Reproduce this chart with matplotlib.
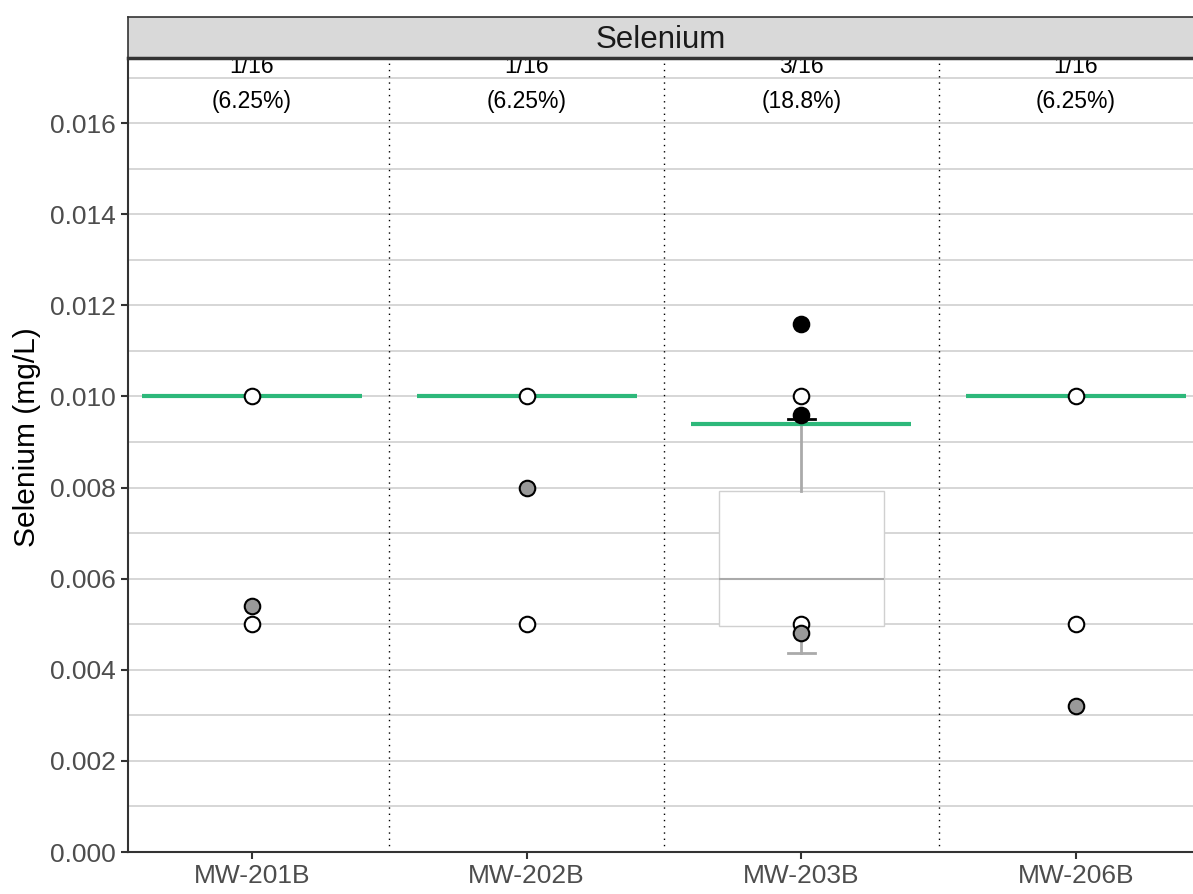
import matplotlib
matplotlib.use("Agg")
import matplotlib.pyplot as plt

plt.rcParams['font.family'] = ['Liberation Sans', 'DejaVu Sans']

# data
wells = ["MW-201B", "MW-202B", "MW-203B", "MW-206B"]
detect_counts = ["1/16", "1/16", "3/16", "1/16"]
detect_pcts = ["(6.25%)", "(6.25%)", "(18.8%)", "(6.25%)"]
limit_values = [0.010, 0.010, 0.0094, 0.010]

# non-detects (open), estimated (grey), detects (black)
nd_wells = [1, 1, 2, 2, 3, 3, 4, 4]
nd_values = [0.010, 0.005, 0.010, 0.005, 0.010, 0.005, 0.010, 0.005]
est_wells = [1, 2, 3, 4]
est_values = [0.0054, 0.008, 0.0048, 0.0032]
det_wells = [3, 3]
det_values = [0.0116, 0.0096]

# box for MW-203B
box_stats = [dict(med=0.0060, q1=0.00497, q3=0.00792, whislo=0.00436, whishi=0.0095, fliers=[])]

fig = plt.figure(figsize=(11.93, 8.94), dpi=100)
ax = fig.add_axes([128 / 1193, 1 - 852 / 894, 1 - 128 / 1193, (852 - 58) / 894])

pos = list(range(1, len(wells) + 1))

# grid
for v in [i * 0.001 for i in range(1, 18)]:
    ax.axhline(v, color='#cfcfcf', lw=1.2, zorder=0)

bp = ax.bxp(box_stats, positions=[3], widths=0.6, patch_artist=True, showfliers=False,
            boxprops=dict(facecolor='white', edgecolor='#d0d0d0', lw=1.0),
            medianprops=dict(color='#aaaaaa', lw=1.5),
            whiskerprops=dict(color='#aaaaaa', lw=2),
            capprops=dict(color='#aaaaaa', lw=2), capwidths=0.1, zorder=2)
bp['caps'][1].set_color('black')

ax.hlines(limit_values, [p - 0.4 for p in pos], [p + 0.4 for p in pos],
          color='#2db87a', lw=3, zorder=3)

ax.scatter(nd_wells, nd_values, s=125, facecolor='white', edgecolor='black', lw=1.5, zorder=4)
ax.scatter(est_wells, est_values, s=125, facecolor='#999999', edgecolor='black', lw=1.5, zorder=4)
ax.scatter(det_wells, det_values, s=125, facecolor='black', edgecolor='black', lw=1.5, zorder=5)

for x in [1.5, 2.5, 3.5]:
    ax.axvline(x, color='black', lw=1, ls=(0, (1, 3.5)), zorder=1)

for p, c, pc in zip(pos, detect_counts, detect_pcts):
    ax.text(p, 0.01724, c, ha='center', va='center', fontsize=16.5, color='black')
    ax.text(p, 0.01648, pc, ha='center', va='center', fontsize=16.5, color='black')

ax.set_xlim(1 - 124 / 274.7, 4 + 117 / 274.7)
ax.set_ylim(0, 0.01743)
ax.set_xticks(pos)
ax.set_xticklabels(wells)
ax.set_yticks([i * 0.002 for i in range(9)])
ax.set_yticklabels([f"{i * 0.002:.3f}" for i in range(9)])
ax.tick_params(labelsize=19, colors='#4d4d4d', length=5, width=1.5)
ax.tick_params(axis='both', color='#333333')
for s in ['top', 'right']:
    ax.spines[s].set_visible(False)
for s in ['left', 'bottom']:
    ax.spines[s].set_color('#333333')
    ax.spines[s].set_linewidth(1.5)

# y label centred on panel + strip
fig.text(27 / 1193, 1 - 437 / 894, "Selenium (mg/L)", rotation=90, ha='center', va='center',
         fontsize=21.5, color='black')

# facet strip
strip = fig.add_axes([128 / 1193, 1 - 58 / 894, 1 - 128 / 1193, 41 / 894], zorder=5)
strip.set_facecolor('#d9d9d9')
strip.set_xticks([])
strip.set_yticks([])
for s in strip.spines.values():
    s.set_color('#333333')
    s.set_linewidth(1.2)
strip.spines['bottom'].set_linewidth(2.5)
strip.spines['right'].set_visible(False)
strip.text(0.5, 0.45, "Selenium", ha='center', va='center', fontsize=22.5, color='#1a1a1a',
           transform=strip.transAxes)

fig.savefig("out.png", dpi=100)
